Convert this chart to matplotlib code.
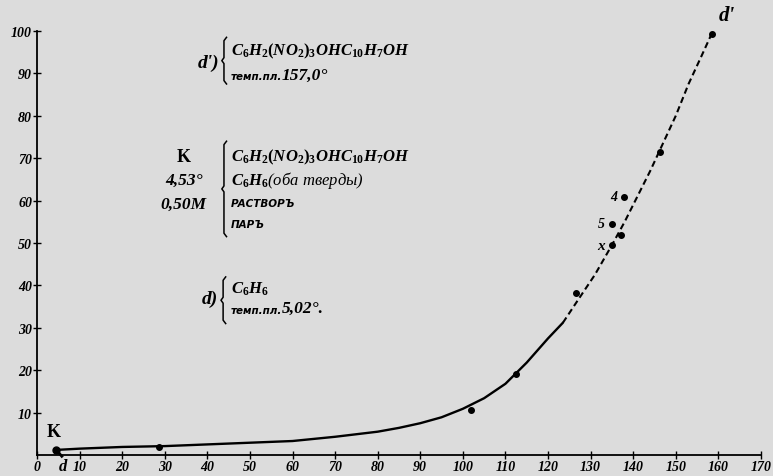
import numpy as np
import matplotlib
matplotlib.use("Agg")
import matplotlib.pyplot as plt

# Kurve: durchgezogener Teil und gestrichelter Teil
solid_x = [4.5, 10, 20, 30, 40, 50, 60, 70, 80, 85, 90, 95, 100, 105, 110, 115, 120, 123.5]
solid_y = [1.2, 1.5, 1.9, 2.1, 2.5, 2.9, 3.3, 4.3, 5.5, 6.4, 7.5, 8.9, 10.9, 13.4, 16.8, 21.8, 27.5, 31.2]
dash_x = [123.5, 127, 131, 135, 138, 141, 144, 147, 150, 153, 156, 158.5]
dash_y = [31.2, 36.5, 42.5, 49.5, 55, 61, 67, 73.5, 80, 87.5, 94, 99.5]

# Messpunkte
pt_x = [28.7, 101.9, 112.4, 126.6, 135.0, 137.1, 135.0, 137.9, 146.3, 158.4]
pt_y = [1.8, 10.7, 19.1, 38.1, 49.5, 51.9, 54.4, 60.9, 71.4, 99.3]

# K und d
K_pt = (4.53, 1.2)
d_pt = (5.02, 0.0)

xticks = list(range(0, 171, 10))
yticks = list(range(10, 101, 10))

bg = "#dcdcdc"
serif_bi = dict(family="Liberation Serif", weight="bold", style="italic")
caps = dict(family="DejaVu Sans", weight="bold", style="italic", fontsize=7.5)

plt.rcParams["mathtext.fontset"] = "custom"
plt.rcParams["mathtext.it"] = "Liberation Serif:italic:bold"
plt.rcParams["mathtext.rm"] = "Liberation Serif:bold"
plt.rcParams["mathtext.default"] = "it"

fig = plt.figure(figsize=(7.73, 4.77), dpi=100, facecolor=bg)
ax = fig.add_axes([0.0479, 0.044, 0.9365, 0.889], facecolor=bg)

ax.plot(solid_x, solid_y, color="black", linewidth=1.7, solid_capstyle="round")
ax.plot(dash_x, dash_y, color="black", linewidth=1.5, dashes=(3, 1.8))
ax.plot(pt_x, pt_y, "o", color="black", markersize=4)
ax.plot([K_pt[0], d_pt[0] + 0.8], [K_pt[1], d_pt[1] - 0.3], color="black", linewidth=2, clip_on=False)
ax.plot(*K_pt, "o", color="black", markersize=5, clip_on=False)

ax.set_xlim(0, 170)
ax.set_ylim(0, 100)
for s in ["top", "right"]:
    ax.spines[s].set_visible(False)
for s in ["left", "bottom"]:
    ax.spines[s].set_linewidth(1.3)
ax.set_xticks(xticks)
ax.set_yticks(yticks)
ax.tick_params(direction="inout", length=6, width=1, pad=0.5)
for lab in ax.get_xticklabels() + ax.get_yticklabels():
    lab.set_fontfamily("Liberation Serif")
    lab.set_fontweight("bold")
    lab.set_fontstyle("italic")
    lab.set_fontsize(10)

# Beschriftungen an der Kurve
ax.text(4.0, 3.5, "K", fontsize=13, family="Liberation Serif", weight="bold", ha="center", va="bottom")
ax.text(6.0, -2.6, "d", fontsize=12, ha="center", va="center", clip_on=False, **serif_bi)
ax.text(162, 101.5, "d'", fontsize=15, ha="center", va="bottom", clip_on=False, **serif_bi)
ax.text(136.3, 60.9, "4", fontsize=10, ha="right", va="center", **serif_bi)
ax.text(133.4, 54.6, "5", fontsize=10, ha="right", va="center", **serif_bi)
ax.text(133.4, 49.3, "x", fontsize=11, ha="right", va="center", **serif_bi)


def brace(x, y0, y1):
    ym = (y0 + y1) / 2
    ax.plot([x + 0.6, x, x, x - 0.5, x, x, x + 0.6],
            [y0, y0 - 0.8, ym + 0.7, ym, ym - 0.7, y1 + 0.8, y1],
            color="black", linewidth=1.1)


tx = 45.5
fs = 12
# Block d'
ax.text(42.8, 92.5, "d')", fontsize=14, ha="right", va="center", **serif_bi)
brace(43.9, 98.5, 87.5)
ax.text(tx, 95.5, r"$C_6H_2(NO_2)_3OHC_{10}H_7OH$", fontsize=fs, ha="left", va="center")
ax.text(tx, 89.3, "темп.пл.", ha="left", va="center", **caps)
ax.text(tx + 12.0, 89.6, "157,0°", fontsize=12.5, ha="left", va="center", **serif_bi)

# Block K
ax.text(34.5, 70.5, "K", fontsize=13, family="Liberation Serif", weight="bold", ha="center", va="center")
ax.text(34.5, 65, "4,53°", fontsize=12.5, ha="center", va="center", **serif_bi)
ax.text(34.5, 59.3, "0,50M", fontsize=12.5, ha="center", va="center", **serif_bi)
brace(43.9, 74, 51.5)
ax.text(tx, 70.5, r"$C_6H_2(NO_2)_3OHC_{10}H_7OH$", fontsize=fs, ha="left", va="center")
ax.text(tx, 65, r"$C_6H_6$(оба тверды)", fontsize=fs, family="Liberation Serif", style="italic",
        ha="left", va="center")
ax.text(tx, 59.5, "РАСТВОРЪ", ha="left", va="center", **caps)
ax.text(tx, 54.5, "ПАРЪ", ha="left", va="center", **caps)

# Block d
ax.text(42.6, 37, "d)", fontsize=14, ha="right", va="center", **serif_bi)
brace(43.7, 42, 31)
ax.text(tx, 39.5, r"$C_6H_6$", fontsize=fs, ha="left", va="center")
ax.text(tx, 34.3, "темп.пл.", ha="left", va="center", **caps)
ax.text(tx + 12.0, 34.6, "5,02°.", fontsize=12.5, ha="left", va="center", **serif_bi)

fig.savefig("out.png", dpi=100, facecolor=bg)
